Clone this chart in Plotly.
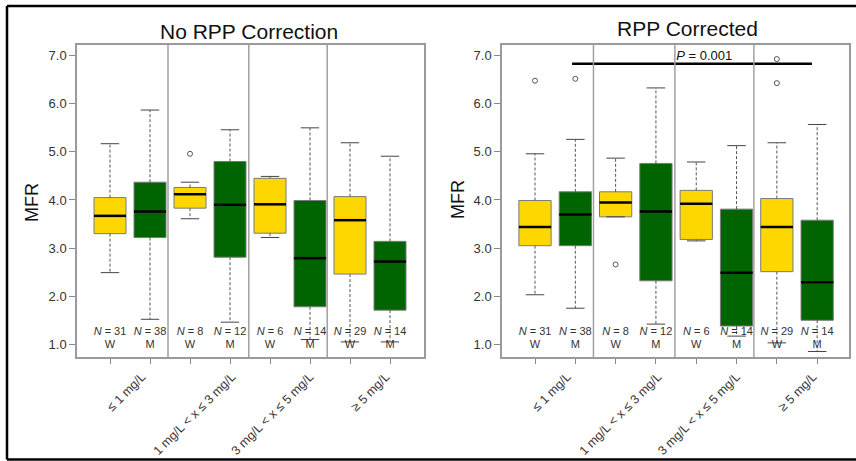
import plotly.graph_objects as go

# ---------------- data ----------------
groups = ["≤ 1 mg/L", "1 mg/L < x ≤ 3 mg/L", "3 mg/L < x ≤ 5 mg/L", "≥ 5 mg/L"]
sexes = ["W", "M", "W", "M", "W", "M", "W", "M"]
n_counts = [31, 38, 8, 12, 6, 14, 29, 14]
positions = [1, 2, 3, 4, 5, 6, 7, 8]

# No RPP correction
raw_lower = [2.49, 1.52, 3.61, 1.46, 3.22, 1.10, 1.05, 1.05]
raw_q1 = [3.30, 3.22, 3.83, 2.81, 3.31, 1.78, 2.46, 1.71]
raw_med = [3.67, 3.76, 4.12, 3.90, 3.91, 2.79, 3.58, 2.72]
raw_q3 = [4.05, 4.37, 4.26, 4.80, 4.45, 3.99, 4.07, 3.14]
raw_upper = [5.17, 5.87, 4.37, 5.46, 4.49, 5.50, 5.19, 4.91]
raw_out_x = [3]
raw_out_y = [4.96]

# RPP corrected
cor_lower = [2.03, 1.75, 3.65, 1.42, 3.15, 1.17, 1.03, 0.85]
cor_q1 = [3.05, 3.05, 3.65, 2.32, 3.18, 1.38, 2.51, 1.50]
cor_med = [3.44, 3.70, 3.95, 3.76, 3.92, 2.49, 3.44, 2.29]
cor_q3 = [3.99, 4.17, 4.17, 4.76, 4.20, 3.81, 4.03, 3.58]
cor_upper = [4.96, 5.26, 4.87, 6.33, 4.79, 5.13, 5.19, 5.57]
cor_out_x = [1, 2, 3, 7, 7]
cor_out_y = [6.48, 6.52, 2.66, 6.93, 6.43]

p_text = "<i>P</i> = 0.001"
p_from, p_to, p_level = 1.92, 7.87, 6.83

y_ticks = [1.0, 2.0, 3.0, 4.0, 5.0, 6.0, 7.0]
dividers = [2.45, 4.47, 6.43]
label_pos = [1.8, 4.05, 6.0, 7.9]

YELLOW = "#FFD700"
GREEN = "#006400"
colors = [YELLOW if s == "W" else GREEN for s in sexes]
FONT = "Arial, Liberation Sans, sans-serif"

fig = go.Figure()


def add_panel(xa, ya, lower, q1, med, q3, upper, ox, oy):
    # boxes
    fig.add_trace(go.Bar(
        x=positions, y=[b - a for a, b in zip(q1, q3)], base=q1, width=0.8,
        marker=dict(color=colors, line=dict(color="#7a7a7a", width=1)),
        xaxis=xa, yaxis=ya, showlegend=False, hoverinfo="skip"))
    # whiskers (dashed)
    wx, wy = [], []
    for p, lo, a, b, up in zip(positions, lower, q1, q3, upper):
        wx += [p, p, None, p, p, None]
        wy += [b, up, None, a, lo, None]
    fig.add_trace(go.Scatter(
        x=wx, y=wy, mode="lines", line=dict(color="#555", width=1, dash="3px,2px"),
        xaxis=xa, yaxis=ya, showlegend=False, hoverinfo="skip"))
    # caps
    cx, cy = [], []
    for p, lo, up in zip(positions, lower, upper):
        cx += [p - 0.23, p + 0.23, None, p - 0.23, p + 0.23, None]
        cy += [up, up, None, lo, lo, None]
    fig.add_trace(go.Scatter(
        x=cx, y=cy, mode="lines", line=dict(color="#444", width=1),
        xaxis=xa, yaxis=ya, showlegend=False, hoverinfo="skip"))
    # medians
    mx, my = [], []
    for p, m in zip(positions, med):
        mx += [p - 0.4, p + 0.4, None]
        my += [m, m, None]
    fig.add_trace(go.Scatter(
        x=mx, y=my, mode="lines", line=dict(color="black", width=2.5),
        xaxis=xa, yaxis=ya, showlegend=False, hoverinfo="skip"))
    # outliers
    fig.add_trace(go.Scatter(
        x=ox, y=oy, mode="markers",
        marker=dict(symbol="circle-open", size=5, color="#555", line=dict(width=1)),
        xaxis=xa, yaxis=ya, showlegend=False, hoverinfo="skip"))
    # N labels
    fig.add_trace(go.Scatter(
        x=positions, y=[1.25] * 8, mode="text",
        text=[f"<i>N</i> = {n}" for n in n_counts],
        textfont=dict(family=FONT, size=11, color="#333"),
        xaxis=xa, yaxis=ya, showlegend=False, hoverinfo="skip"))
    fig.add_trace(go.Scatter(
        x=positions, y=[0.97] * 8, mode="text", text=sexes,
        textfont=dict(family=FONT, size=11, color="#333"),
        xaxis=xa, yaxis=ya, showlegend=False, hoverinfo="skip"))


add_panel("x", "y", raw_lower, raw_q1, raw_med, raw_q3, raw_upper, raw_out_x, raw_out_y)
add_panel("x2", "y2", cor_lower, cor_q1, cor_med, cor_q3, cor_upper, cor_out_x, cor_out_y)

# p-value bar
fig.add_trace(go.Scatter(x=[p_from, p_to], y=[p_level, p_level], mode="lines",
                         line=dict(color="black", width=2.5), xaxis="x2", yaxis="y2",
                         showlegend=False, hoverinfo="skip"))
fig.add_trace(go.Scatter(x=[5.2], y=[6.98], mode="text", text=[p_text],
                         textfont=dict(family=FONT, size=13, color="#111"),
                         xaxis="x2", yaxis="y2", showlegend=False, hoverinfo="skip"))

# dummy traces for label axes
fig.add_trace(go.Scatter(x=[None], y=[None], xaxis="x3", yaxis="y", showlegend=False))
fig.add_trace(go.Scatter(x=[None], y=[None], xaxis="x4", yaxis="y2", showlegend=False))

W, H = 856, 461
ydom = [1 - 357 / H, 1 - 45 / H]
yrange = [0.736, 7.222]
dom1 = [77 / W, 424 / W]
dom2 = [502 / W, 849 / W]
r1 = [0.175, 8.85]
r2 = [0.181, 8.79]

xcommon = dict(showgrid=False, zeroline=False, showline=True, mirror=True,
               linecolor="#9a9a9a", linewidth=1.5, ticks="outside", ticklen=5,
               tickcolor="#888", tickvals=positions, showticklabels=False)
ycommon = dict(showgrid=False, zeroline=False, showline=True, mirror=True,
               linecolor="#9a9a9a", linewidth=1.5, ticks="outside", ticklen=6,
               tickcolor="#888", tickvals=y_ticks, tickformat=".1f",
               tickfont=dict(family=FONT, size=13, color="#333"),
               range=yrange, domain=ydom)
labcommon = dict(showgrid=False, zeroline=False, showline=False, ticks="",
                 tickvals=label_pos, ticktext=groups, tickangle=-45,
                 ticklabelstandoff=9,
                 tickfont=dict(family=FONT, size=12.5, color="#333"))

fig.update_layout(
    width=W, height=H, margin=dict(l=0, r=0, t=0, b=0),
    paper_bgcolor="white", plot_bgcolor="white", barmode="overlay",
    xaxis=dict(domain=dom1, range=r1, anchor="y", **xcommon),
    xaxis2=dict(domain=dom2, range=r2, anchor="y2", **xcommon),
    xaxis3=dict(domain=dom1, range=r1, anchor="y", overlaying="x", side="bottom", **labcommon),
    xaxis4=dict(domain=dom2, range=r2, anchor="y2", overlaying="x2", side="bottom", **labcommon),
    yaxis=dict(anchor="x", **ycommon),
    yaxis2=dict(anchor="x2", **ycommon),
)

shapes = []
for xr, yr in (("x", "y"), ("x2", "y2")):
    for d in dividers:
        shapes.append(dict(type="line", xref=xr, yref=yr + " domain", x0=d, x1=d, y0=0, y1=1,
                           line=dict(color="#a0a0a0", width=1.5)))
# outer frame
shapes += [
    dict(type="line", xref="paper", yref="paper", x0=7 / W, x1=1.0, y0=1 - 6 / H, y1=1 - 6 / H,
         line=dict(color="black", width=2.5)),
    dict(type="line", xref="paper", yref="paper", x0=7 / W, x1=1.0, y0=1 - 459.5 / H, y1=1 - 459.5 / H,
         line=dict(color="black", width=2.5)),
    dict(type="line", xref="paper", yref="paper", x0=7 / W, x1=7 / W, y0=1 - 459.5 / H, y1=1 - 6 / H,
         line=dict(color="black", width=2.5)),
]
fig.update_layout(shapes=shapes)

annotations = [
    dict(text="No RPP Correction", x=249 / W, y=1 - 32 / H, xref="paper", yref="paper",
         xanchor="center", yanchor="middle",
         showarrow=False, font=dict(family=FONT, size=21, color="#111")),
    dict(text="RPP Corrected", x=687 / W, y=1 - 28 / H, xref="paper", yref="paper",
         xanchor="center", yanchor="middle",
         showarrow=False, font=dict(family=FONT, size=21, color="#111")),
    dict(text="MFR", x=32 / W, y=1 - 202 / H, xref="paper", yref="paper", textangle=-90,
         xanchor="center", yanchor="middle",
         showarrow=False, font=dict(family=FONT, size=18, color="#111")),
    dict(text="MFR", x=458 / W, y=1 - 200 / H, xref="paper", yref="paper", textangle=-90,
         xanchor="center", yanchor="middle",
         showarrow=False, font=dict(family=FONT, size=18, color="#111")),
]
fig.update_layout(annotations=annotations)

fig.write_html("out.html", config={"displayModeBar": False},
               post_script="document.body.style.margin='0';document.body.style.overflow='hidden';")
